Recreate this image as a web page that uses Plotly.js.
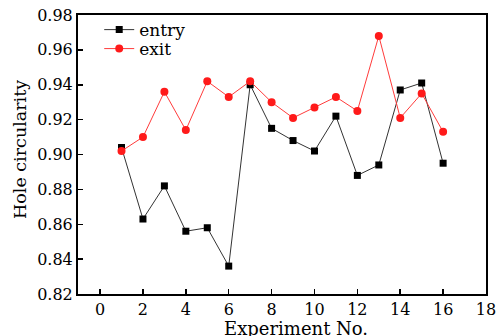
<!DOCTYPE html>
<html>
<head>
<meta charset="utf-8">
<script src="https://cdn.plot.ly/plotly-3.0.1.min.js"></script>
<style>html,body{margin:0;padding:0;background:#fff;}#chart{width:499px;height:336px;}</style>
</head>
<body>
<div id="chart"></div>
<script>
const experiments = [1,2,3,4,5,6,7,8,9,10,11,12,13,14,15,16];
const entryValues = [0.904,0.863,0.882,0.856,0.858,0.836,0.940,0.915,0.908,0.902,0.922,0.888,0.894,0.937,0.941,0.895];
const exitValues = [0.902,0.910,0.936,0.914,0.942,0.933,0.942,0.930,0.921,0.927,0.933,0.925,0.968,0.921,0.935,0.913];
const xTicks = [0,2,4,6,8,10,12,14,16,18];
const yTicks = [0.82,0.84,0.86,0.88,0.90,0.92,0.94,0.96,0.98];
const xTitle = 'Experiment No.';
const yTitle = 'Hole circularity';

const fam = '"DejaVu Serif", "Liberation Serif", serif';
const font = {family: fam, size: 16, color: '#000'};

const traces = [
  {x: experiments, y: entryValues, name: 'entry', type: 'scatter', mode: 'lines+markers', legend: 'legend',
   line: {color: '#333', width: 1}, marker: {symbol: 'square', size: 7, color: '#000'}},
  {x: experiments, y: exitValues, name: 'exit', type: 'scatter', mode: 'lines+markers', legend: 'legend2',
   line: {color: '#ff3b3b', width: 1}, marker: {symbol: 'circle', size: 8, color: '#ff1a1a'}}
];

const axisCommon = {showline: true, linewidth: 2, linecolor: '#000', mirror: true,
  ticks: 'inside', ticklen: 5, tickwidth: 1.5, tickcolor: '#000', showgrid: false, zeroline: false,
  tickfont: font};

const legFont = {family: fam, size: 17, color: '#000'};
const layout = {
  width: 499, height: 336,
  margin: {l: 78, r: 13, t: 15, b: 42},
  paper_bgcolor: '#fff', plot_bgcolor: '#fff',
  font: font,
  showlegend: true,
  legend: {x: 0.052, y: 0.946, xanchor: 'left', yanchor: 'middle', bgcolor: 'rgba(0,0,0,0)',
    font: legFont, itemwidth: 30},
  legend2: {x: 0.052, y: 0.878, xanchor: 'left', yanchor: 'middle', bgcolor: 'rgba(0,0,0,0)',
    font: legFont, itemwidth: 30},
  xaxis: Object.assign({}, axisCommon, {range: [-1.03, 18], tickvals: xTicks, ticktext: xTicks.map(String)}),
  yaxis: Object.assign({}, axisCommon, {range: [0.82, 0.98], tickvals: yTicks, ticktext: yTicks.map(v => v.toFixed(2))}),
  annotations: [
    {text: xTitle, xref: 'paper', yref: 'paper', x: (296 - 78) / 408, y: (294 - 328) / 279,
     xanchor: 'center', yanchor: 'middle', showarrow: false, font: {family: fam, size: 18, color: '#000'}},
    {text: yTitle, xref: 'paper', yref: 'paper', x: (20 - 78) / 408, y: (294 - 150) / 279,
     xanchor: 'center', yanchor: 'middle', textangle: -90, showarrow: false, font: {family: fam, size: 17.5, color: '#000'}}
  ]
};

Plotly.newPlot('chart', traces, layout, {displayModeBar: false, staticPlot: true});
</script>
</body>
</html>
